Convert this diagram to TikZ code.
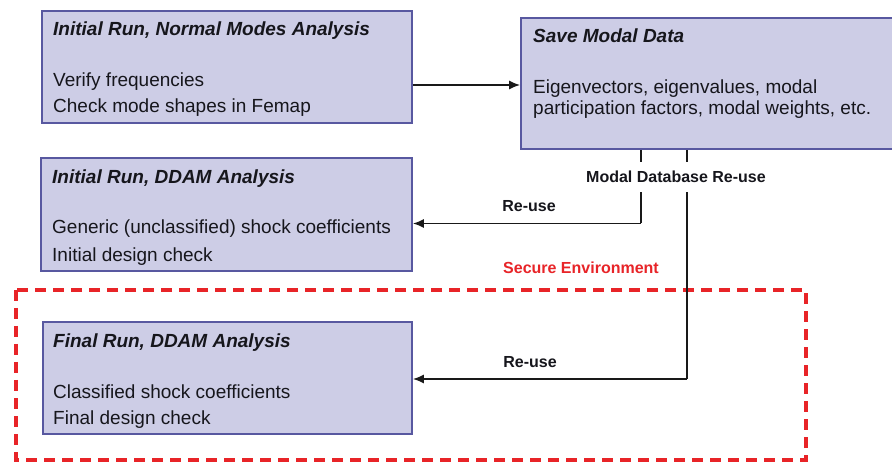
\documentclass[tikz,border=0pt]{standalone}
\usepackage{fontspec}
\setmainfont{Liberation Sans}
\usetikzlibrary{arrows.meta}
\definecolor{boxfill}{RGB}{205,205,230}
\definecolor{boxline}{RGB}{88,88,160}
\definecolor{secred}{RGB}{232,36,40}
\definecolor{txt}{RGB}{22,22,28}
\tikzset{
  stagebox/.style={draw=boxline, fill=boxfill, line width=1.6pt, inner sep=0pt, rectangle},
  ttl/.style={anchor=west, inner sep=0pt, text height=13.6pt, text depth=0pt, text=txt,
    font=\fontsize{19}{19}\selectfont\bfseries\itshape},
  body/.style={anchor=west, inner sep=0pt, text height=13.6pt, text depth=0pt, text=txt,
    font=\fontsize{19}{19}\selectfont},
  lbl/.style={inner sep=0pt, text height=11.5pt, text depth=0pt, text=txt,
    font=\fontsize{16}{16}\selectfont\bfseries},
  conn/.style={draw=black!90, line width=1.8pt},
  arr/.style={conn, -{Latex[length=11pt,width=9pt]}},
  secure/.style={draw=secred, line width=3.6pt, dash pattern=on 11pt off 7pt}
}
\begin{document}
\begin{tikzpicture}[x=1pt,y=-1pt]
\clip (0,0) rectangle (892,462);
\fill[white] (0,0) rectangle (892,462);

% boxes
\node[stagebox, minimum width=370pt, minimum height=112pt] (b1) at (227,67) {};
\node[stagebox, minimum width=376pt, minimum height=131pt] (b2) at (709,83.5) {};
\node[stagebox, minimum width=371pt, minimum height=113pt] (b3) at (226.5,214.5) {};
\node[stagebox, minimum width=369pt, minimum height=112pt] (b4) at (227.5,378) {};

% texts
\node[ttl] (t1) at (53,29) {Initial Run, Normal Modes Analysis};
\node[body] (t1a) at (53,80) {Verify frequencies};
\node[body] (t1b) at (53,106) {Check mode shapes in Femap};

\node[ttl] (t2) at (533,36) {Save Modal Data};
\node[body] (t2a) at (533,87) {Eigenvectors, eigenvalues, modal};
\node[body] (t2b) at (533,108) {participation factors, modal weights, etc.};

\node[ttl] (t3) at (52,177) {Initial Run, DDAM Analysis};
\node[body] (t3a) at (52,227) {Generic (unclassified) shock coefficients};
\node[body] (t3b) at (52,255) {Initial design check};

\node[ttl] (t4) at (53,341) {Final Run, DDAM Analysis};
\node[body] (t4a) at (53,392) {Classified shock coefficients};
\node[body] (t4b) at (53,418) {Final design check};

% secure environment
\draw[secure] (16,290) rectangle (806,460);
\node[lbl, text=secred] (sec) at (581,268) {Secure Environment};

% connectors
\coordinate (r1) at (0,85);
\coordinate (c1) at (641,223.5);
\coordinate (c2) at (687,379);
\draw[arr] (b1.east |- r1) -- (b2.west |- r1);
\draw[conn] (b2.south -| c1) -- (c1);
\draw[arr] (c1) -- (b3.east |- c1);
\draw[conn] (b2.south -| c2) -- (c2);
\draw[arr] (c2) -- (b4.east |- c2);

% labels
\node[lbl, fill=white, inner ysep=9.5pt, inner xsep=2pt] (mdb) at (676,177) {Modal Database Re-use};
\node[lbl] (ru1) at (529,206) {Re-use};
\node[lbl] (ru2) at (530,362) {Re-use};
\end{tikzpicture}
\end{document}
